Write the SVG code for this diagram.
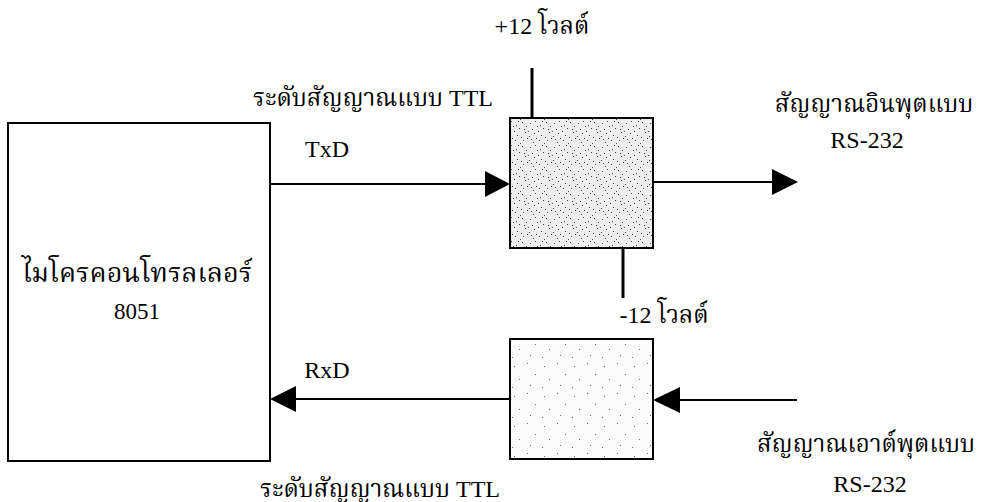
<svg xmlns="http://www.w3.org/2000/svg" width="983" height="502" viewBox="0 0 983 502">
<style>
  .t { font-family: 'Liberation Serif', 'Noto Serif Thai', 'Noto Sans Thai', serif; fill: #000; }
  .th { font-size: 24px; }
  .en { font-size: 24px; }
  .box { fill: #fff; stroke: #000; stroke-width: 2; }
  .line { stroke: #000; stroke-width: 2; fill: none; }
  .lead { stroke: #000; stroke-width: 3; fill: none; }
</style>
<defs>
  <pattern id="dense" width="24" height="24" patternUnits="userSpaceOnUse">
    <rect width="24" height="24" fill="#eeeeee"/>
    <g fill="#444">
      <rect x="2" y="3" width="1" height="1"/><rect x="7" y="1" width="1" height="1"/>
      <rect x="12" y="5" width="1" height="1"/><rect x="18" y="2" width="1" height="1"/>
      <rect x="4" y="9" width="1" height="1"/><rect x="10" y="11" width="1" height="1"/>
      <rect x="15" y="8" width="1" height="1"/><rect x="21" y="12" width="1" height="1"/>
      <rect x="1" y="16" width="1" height="1"/><rect x="8" y="18" width="1" height="1"/>
      <rect x="13" y="15" width="1" height="1"/><rect x="19" y="20" width="1" height="1"/>
      <rect x="5" y="22" width="1" height="1"/><rect x="16" y="23" width="1" height="1"/>
      <rect x="11" y="20" width="1" height="1"/><rect x="22" y="6" width="1" height="1"/>
      <rect x="6" y="13" width="1" height="1"/><rect x="17" y="17" width="1" height="1"/>
      <rect x="9" y="6" width="1" height="1"/><rect x="3" y="19" width="1" height="1"/>
      <rect x="14" y="1" width="1" height="1"/><rect x="20" y="9" width="1" height="1"/>
      <rect x="23" y="18" width="1" height="1"/><rect x="0" y="11" width="1" height="1"/>
    </g>
  </pattern>
  <pattern id="sparse" width="30" height="30" patternUnits="userSpaceOnUse">
    <rect width="30" height="30" fill="#fbfbfb"/>
    <g fill="#666">
      <rect x="4" y="6" width="1" height="1"/><rect x="17" y="3" width="1" height="1"/>
      <rect x="25" y="14" width="1" height="1"/><rect x="9" y="19" width="1" height="1"/>
      <rect x="20" y="25" width="1" height="1"/><rect x="2" y="27" width="1" height="1"/>
    </g>
  </pattern>
</defs>

<g id="mcu">
  <rect class="box" x="8" y="123" width="262" height="338"/>
  <text class="t" x="137" y="282" text-anchor="middle" style="font-size:27px">ไมโครคอนโทรลเลอร์</text>
  <text class="t" x="137" y="319" text-anchor="middle" style="font-size:23px">8051</text>
</g>

<g id="driver">
  <rect class="box" x="510" y="118" width="143" height="130" style="fill:url(#dense)"/>
</g>

<g id="receiver">
  <rect class="box" x="510" y="339" width="143" height="120" style="fill:url(#sparse)"/>
</g>

<g id="connectors">
  <line class="lead" x1="532" y1="68" x2="532" y2="118"/>
  <line class="lead" x1="623" y1="248" x2="623" y2="298"/>
  <line class="line" x1="270" y1="184" x2="488" y2="184"/>
  <polygon points="485,171 510,184 485,197" fill="#000"/>
  <line class="line" x1="653" y1="182" x2="775" y2="182"/>
  <polygon points="772,169 798,182 772,195" fill="#000"/>
  <line class="line" x1="797" y1="400" x2="678" y2="400"/>
  <polygon points="680,387 653,400 680,413" fill="#000"/>
  <line class="line" x1="510" y1="399" x2="292" y2="399"/>
  <polygon points="296,386 270,399 296,412" fill="#000"/>
</g>

<g id="labels">
  <text class="t th" x="542" y="34" text-anchor="middle">+12 โวลต์</text>
  <text class="t th" x="373" y="106" text-anchor="middle">ระดับสัญญาณแบบ TTL</text>
  <text class="t en" x="327" y="157" text-anchor="middle">TxD</text>
  <text class="t th" x="874" y="112" text-anchor="middle">สัญญาณอินพุตแบบ</text>
  <text class="t en" x="867" y="148" text-anchor="middle">RS-232</text>
  <text class="t th" x="664" y="323" text-anchor="middle">-12 โวลต์</text>
  <text class="t en" x="327" y="378" text-anchor="middle">RxD</text>
  <text class="t th" x="866" y="452" text-anchor="middle">สัญญาณเอาต์พุตแบบ</text>
  <text class="t en" x="870" y="492" text-anchor="middle">RS-232</text>
  <text class="t th" x="380" y="497" text-anchor="middle">ระดับสัญญาณแบบ TTL</text>
</g>
</svg>
